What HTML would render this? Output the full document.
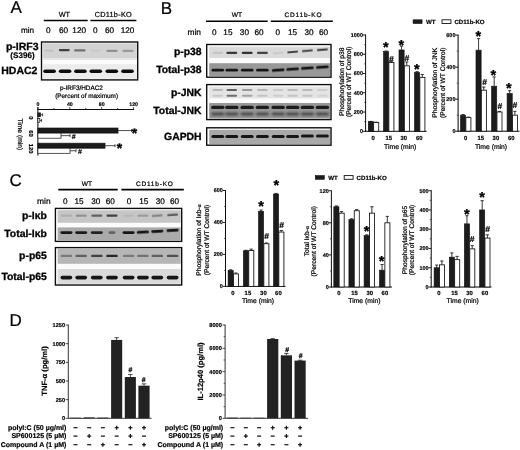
<!DOCTYPE html>
<html><head><meta charset="utf-8"><title>Figure</title>
<style>html,body{margin:0;padding:0;background:#fff}svg{display:block}text{font-family:"Liberation Sans",Arial,sans-serif;text-rendering:geometricPrecision}</style>
</head><body>
<svg width="520" height="450" viewBox="0 0 520 450">
<defs>
<filter id="b1" x="-20%" y="-100%" width="140%" height="300%"><feGaussianBlur stdDeviation="0.7"/></filter>
<filter id="b2" x="-20%" y="-100%" width="140%" height="300%"><feGaussianBlur stdDeviation="1.1"/></filter>
<filter id="soft" x="-5%" y="-5%" width="110%" height="110%"><feGaussianBlur stdDeviation="0.35"/></filter>
</defs>
<rect width="520" height="450" fill="#fff"/>
<g filter="url(#soft)">
<text x="10.6" y="13.2" font-size="17" text-anchor="start" fill="#000" stroke="#000" stroke-width="0.22">A</text>
<text x="160.8" y="13.5" font-size="17" text-anchor="start" fill="#000" stroke="#000" stroke-width="0.22">B</text>
<text x="9.6" y="185.8" font-size="17" text-anchor="start" fill="#000" stroke="#000" stroke-width="0.22">C</text>
<text x="9.4" y="326.2" font-size="17" text-anchor="start" fill="#000" stroke="#000" stroke-width="0.22">D</text>
<text x="64.4" y="17.2" font-size="7.3" text-anchor="middle" fill="#000" stroke="#000" stroke-width="0.22">WT</text>
<text x="113.2" y="17.2" font-size="7.3" text-anchor="middle" fill="#000" textLength="37" stroke="#000" stroke-width="0.22">CD11b-KO</text>
<line x1="43.8" y1="20.5" x2="87.7" y2="20.5" stroke="#000" stroke-width="1.6"/>
<line x1="90.4" y1="20.5" x2="136.4" y2="20.5" stroke="#000" stroke-width="1.6"/>
<text x="27.5" y="33.3" font-size="8.2" text-anchor="middle" fill="#000" stroke="#000" stroke-width="0.22">min</text>
<text x="48.2" y="33.3" font-size="8.2" text-anchor="middle" fill="#000" stroke="#000" stroke-width="0.22">0</text>
<text x="63.6" y="33.3" font-size="8.2" text-anchor="middle" fill="#000" stroke="#000" stroke-width="0.22">60</text>
<text x="79.2" y="33.3" font-size="8.2" text-anchor="middle" fill="#000" stroke="#000" stroke-width="0.22">120</text>
<text x="95.3" y="33.3" font-size="8.2" text-anchor="middle" fill="#000" stroke="#000" stroke-width="0.22">0</text>
<text x="109.6" y="33.3" font-size="8.2" text-anchor="middle" fill="#000" stroke="#000" stroke-width="0.22">60</text>
<text x="127.6" y="33.3" font-size="8.2" text-anchor="middle" fill="#000" stroke="#000" stroke-width="0.22">120</text>
<text x="38.6" y="49.8" font-size="10.5" text-anchor="end" font-weight="bold" fill="#000" stroke="#000" stroke-width="0.3">p-IRF3</text>
<text x="34.6" y="58.4" font-size="8.1" text-anchor="end" font-weight="bold" fill="#000" stroke="#000" stroke-width="0.18">(S396)</text>
<text x="37.4" y="74.4" font-size="10.5" text-anchor="end" font-weight="bold" fill="#000" stroke="#000" stroke-width="0.3">HDAC2</text>
<rect x="41.50" y="42.00" width="96.20" height="37.90" fill="#fbfbfb"/>
<rect x="42.90" y="43.40" width="93.90" height="15.00" fill="#d3d3d3"/>
<rect x="42.90" y="58.40" width="93.90" height="1.60" fill="#e4e4e4"/>
<rect x="42.90" y="64.20" width="93.90" height="14.60" fill="#ececec"/>
<rect x="44.70" y="49.80" width="9.00" height="1.80" rx="0.90" fill="#111" opacity="0.1" filter="url(#b1)"/>
<rect x="58.80" y="49.00" width="11.00" height="2.20" rx="1.10" fill="#111" opacity="0.72" filter="url(#b1)"/>
<rect x="74.05" y="49.30" width="11.50" height="2.20" rx="1.10" fill="#111" opacity="0.5" filter="url(#b1)"/>
<rect x="91.10" y="49.80" width="9.00" height="1.80" rx="0.90" fill="#111" opacity="0.06" filter="url(#b1)"/>
<rect x="106.25" y="49.70" width="11.50" height="2.20" rx="1.10" fill="#111" opacity="0.32" filter="url(#b1)"/>
<rect x="122.25" y="49.70" width="11.50" height="2.20" rx="1.10" fill="#111" opacity="0.28" filter="url(#b1)"/>
<rect x="43.30" y="69.40" width="12.60" height="3.60" rx="1.80" fill="#111" opacity="1.0" filter="url(#b1)"/>
<rect x="58.80" y="69.40" width="12.60" height="3.60" rx="1.80" fill="#111" opacity="1.0" filter="url(#b1)"/>
<rect x="74.10" y="69.40" width="12.60" height="3.60" rx="1.80" fill="#111" opacity="1.0" filter="url(#b1)"/>
<rect x="89.50" y="69.40" width="12.60" height="3.60" rx="1.80" fill="#111" opacity="1.0" filter="url(#b1)"/>
<rect x="105.50" y="69.40" width="12.60" height="3.60" rx="1.80" fill="#111" opacity="1.0" filter="url(#b1)"/>
<rect x="121.20" y="69.40" width="12.60" height="3.60" rx="1.80" fill="#111" opacity="1.0" filter="url(#b1)"/>
<rect x="41.50" y="42.00" width="96.20" height="37.90" fill="none" stroke="#0a0a0a" stroke-width="1.35"/>
<text x="81.4" y="90" font-size="6.4" text-anchor="middle" fill="#000" stroke="#000" stroke-width="0.22">p-IRF3/HDAC2</text>
<text x="86.6" y="97.6" font-size="6.4" text-anchor="middle" fill="#000" stroke="#000" stroke-width="0.22">(Percent of maximum)</text>
<line x1="37.4" y1="109.5" x2="134.1" y2="109.5" stroke="#0a0a0a" stroke-width="1.0"/>
<line x1="37.9" y1="107.2" x2="37.9" y2="155.6" stroke="#0a0a0a" stroke-width="1.0"/>
<line x1="37.9" y1="109.5" x2="37.9" y2="107.1" stroke="#0a0a0a" stroke-width="0.7"/>
<line x1="53.849999999999994" y1="109.5" x2="53.849999999999994" y2="107.9" stroke="#0a0a0a" stroke-width="0.7"/>
<line x1="69.8" y1="109.5" x2="69.8" y2="107.1" stroke="#0a0a0a" stroke-width="0.7"/>
<line x1="85.75" y1="109.5" x2="85.75" y2="107.9" stroke="#0a0a0a" stroke-width="0.7"/>
<line x1="101.69999999999999" y1="109.5" x2="101.69999999999999" y2="107.1" stroke="#0a0a0a" stroke-width="0.7"/>
<line x1="117.64999999999998" y1="109.5" x2="117.64999999999998" y2="107.9" stroke="#0a0a0a" stroke-width="0.7"/>
<line x1="133.6" y1="109.5" x2="133.6" y2="107.1" stroke="#0a0a0a" stroke-width="0.7"/>
<text x="37.9" y="105.9" font-size="5.2" text-anchor="middle" font-weight="bold" fill="#000" stroke="#000" stroke-width="0.18">0</text>
<text x="69.8" y="105.9" font-size="5.2" text-anchor="middle" font-weight="bold" fill="#000" stroke="#000" stroke-width="0.18">40</text>
<text x="101.69999999999999" y="105.9" font-size="5.2" text-anchor="middle" font-weight="bold" fill="#000" stroke="#000" stroke-width="0.18">80</text>
<text x="133.6" y="105.9" font-size="5.2" text-anchor="middle" font-weight="bold" fill="#000" stroke="#000" stroke-width="0.18">120</text>
<rect x="37.90" y="112.90" width="2.50" height="3.80" fill="#1a1a1a" stroke="#111" stroke-width="0.7"/>
<line x1="40.4" y1="114.80000000000001" x2="42.6" y2="114.80000000000001" stroke="#0a0a0a" stroke-width="0.7"/>
<line x1="42.6" y1="113.30000000000001" x2="42.6" y2="116.30000000000001" stroke="#0a0a0a" stroke-width="0.7"/>
<rect x="37.90" y="118.50" width="1.90" height="3.80" fill="#fff" stroke="#111" stroke-width="0.7"/>
<line x1="39.8" y1="120.4" x2="41.6" y2="120.4" stroke="#0a0a0a" stroke-width="0.7"/>
<line x1="41.6" y1="118.9" x2="41.6" y2="121.9" stroke="#0a0a0a" stroke-width="0.7"/>
<rect x="37.90" y="128.00" width="80.10" height="5.10" fill="#1a1a1a" stroke="#111" stroke-width="0.7"/>
<line x1="118" y1="130.55" x2="131.6" y2="130.55" stroke="#0a0a0a" stroke-width="0.7"/>
<line x1="131.6" y1="129.05" x2="131.6" y2="132.05" stroke="#0a0a0a" stroke-width="0.7"/>
<rect x="37.90" y="133.10" width="23.10" height="5.10" fill="#fff" stroke="#111" stroke-width="0.7"/>
<line x1="61" y1="135.64999999999998" x2="70" y2="135.64999999999998" stroke="#0a0a0a" stroke-width="0.7"/>
<line x1="70" y1="134.14999999999998" x2="70" y2="137.14999999999998" stroke="#0a0a0a" stroke-width="0.7"/>
<rect x="37.90" y="143.20" width="67.10" height="5.00" fill="#1a1a1a" stroke="#111" stroke-width="0.7"/>
<line x1="105" y1="145.7" x2="115" y2="145.7" stroke="#0a0a0a" stroke-width="0.7"/>
<line x1="115" y1="144.2" x2="115" y2="147.2" stroke="#0a0a0a" stroke-width="0.7"/>
<rect x="37.90" y="148.20" width="32.10" height="5.10" fill="#fff" stroke="#111" stroke-width="0.7"/>
<line x1="70" y1="150.75" x2="76" y2="150.75" stroke="#0a0a0a" stroke-width="0.7"/>
<line x1="76" y1="149.25" x2="76" y2="152.25" stroke="#0a0a0a" stroke-width="0.7"/>
<text x="134.6" y="137.79999999999998" font-size="14" text-anchor="middle" font-weight="bold" fill="#000" stroke="#000" stroke-width="0.3">*</text>
<text x="119.4" y="153.0" font-size="14" text-anchor="middle" font-weight="bold" fill="#000" stroke="#000" stroke-width="0.3">*</text>
<text x="73.6" y="138.6" font-size="7" text-anchor="middle" font-weight="bold" fill="#000" stroke="#000" stroke-width="0.18">#</text>
<text x="80" y="153.70000000000002" font-size="7" text-anchor="middle" font-weight="bold" fill="#000" stroke="#000" stroke-width="0.18">#</text>
<text x="18.4" y="134.3" font-size="6.7" text-anchor="middle" transform="rotate(90 18.4 134.3)" fill="#000" stroke="#000" stroke-width="0.22">Time (min)</text>
<text x="29.4" y="117.9" font-size="5.8" text-anchor="middle" font-weight="bold" transform="rotate(90 29.4 117.9)" fill="#000" stroke="#000" stroke-width="0.18">0</text>
<text x="29.4" y="133.5" font-size="5.8" text-anchor="middle" font-weight="bold" transform="rotate(90 29.4 133.5)" fill="#000" stroke="#000" stroke-width="0.18">60</text>
<text x="29.4" y="148.7" font-size="5.8" text-anchor="middle" font-weight="bold" transform="rotate(90 29.4 148.7)" fill="#000" stroke="#000" stroke-width="0.18">120</text>
<text x="236.9" y="17.4" font-size="6.6" text-anchor="middle" fill="#000" stroke="#000" stroke-width="0.22">WT</text>
<text x="303" y="17.4" font-size="6.5" text-anchor="middle" fill="#000" textLength="37" stroke="#000" stroke-width="0.22">CD11b-KO</text>
<line x1="206" y1="21.2" x2="267.7" y2="21.2" stroke="#000" stroke-width="1.6"/>
<line x1="270.8" y1="21.2" x2="332.8" y2="21.2" stroke="#000" stroke-width="1.6"/>
<text x="194.2" y="35" font-size="8.4" text-anchor="middle" fill="#000" stroke="#000" stroke-width="0.22">min</text>
<text x="214.3" y="35" font-size="8.2" text-anchor="middle" fill="#000" stroke="#000" stroke-width="0.22">0</text>
<text x="227.9" y="35" font-size="8.2" text-anchor="middle" fill="#000" stroke="#000" stroke-width="0.22">15</text>
<text x="244.4" y="35" font-size="8.2" text-anchor="middle" fill="#000" stroke="#000" stroke-width="0.22">30</text>
<text x="259" y="35" font-size="8.2" text-anchor="middle" fill="#000" stroke="#000" stroke-width="0.22">60</text>
<text x="277.8" y="35" font-size="8.2" text-anchor="middle" fill="#000" stroke="#000" stroke-width="0.22">0</text>
<text x="292.5" y="35" font-size="8.2" text-anchor="middle" fill="#000" stroke="#000" stroke-width="0.22">15</text>
<text x="309" y="35" font-size="8.2" text-anchor="middle" fill="#000" stroke="#000" stroke-width="0.22">30</text>
<text x="323.5" y="35" font-size="8.2" text-anchor="middle" fill="#000" stroke="#000" stroke-width="0.22">60</text>
<text x="201.6" y="54.7" font-size="10.4" text-anchor="end" font-weight="bold" fill="#000" stroke="#000" stroke-width="0.3">p-p38</text>
<text x="201.6" y="73" font-size="10.4" text-anchor="end" font-weight="bold" fill="#000" stroke="#000" stroke-width="0.3">Total-p38</text>
<text x="201.6" y="95.6" font-size="10.4" text-anchor="end" font-weight="bold" fill="#000" stroke="#000" stroke-width="0.3">p-JNK</text>
<text x="201.6" y="113.6" font-size="10.4" text-anchor="end" font-weight="bold" fill="#000" stroke="#000" stroke-width="0.3">Total-JNK</text>
<text x="201.6" y="139.6" font-size="10.4" text-anchor="end" font-weight="bold" fill="#000" stroke="#000" stroke-width="0.3">GAPDH</text>
<rect x="206.70" y="44.50" width="124.30" height="32.70" fill="#fbfbfb"/>
<rect x="209.20" y="46.80" width="120.80" height="11.20" fill="#dadada"/>
<rect x="209.20" y="63.20" width="120.80" height="12.90" fill="#989898"/>
<rect x="212.30" y="51.80" width="11.00" height="2.20" rx="1.10" fill="#111" opacity="0.1" filter="url(#b1)"/>
<rect x="226.30" y="51.80" width="11.00" height="2.20" rx="1.10" fill="#111" opacity="0.78" filter="url(#b1)"/>
<rect x="241.70" y="51.80" width="11.00" height="2.20" rx="1.10" fill="#111" opacity="0.82" filter="url(#b1)"/>
<rect x="256.90" y="51.80" width="11.00" height="2.20" rx="1.10" fill="#111" opacity="0.72" filter="url(#b1)"/>
<rect x="272.70" y="52.10" width="11.00" height="2.00" rx="1.00" fill="#111" opacity="0.08" filter="url(#b1)" transform="rotate(-5 278.2 53.1)"/>
<rect x="287.10" y="50.95" width="11.00" height="2.00" rx="1.00" fill="#111" opacity="0.72" filter="url(#b1)" transform="rotate(-5 292.6 51.95)"/>
<rect x="301.90" y="49.80" width="11.00" height="2.00" rx="1.00" fill="#111" opacity="0.72" filter="url(#b1)" transform="rotate(-5 307.4 50.800000000000004)"/>
<rect x="316.90" y="48.65" width="11.00" height="2.00" rx="1.00" fill="#111" opacity="0.78" filter="url(#b1)" transform="rotate(-5 322.4 49.65)"/>
<rect x="211.55" y="68.80" width="12.50" height="2.80" rx="1.40" fill="#111" opacity="0.95" filter="url(#b1)"/>
<rect x="225.55" y="68.80" width="12.50" height="2.80" rx="1.40" fill="#111" opacity="0.95" filter="url(#b1)"/>
<rect x="240.95" y="68.80" width="12.50" height="2.80" rx="1.40" fill="#111" opacity="0.95" filter="url(#b1)"/>
<rect x="256.15" y="68.80" width="12.50" height="2.80" rx="1.40" fill="#111" opacity="0.95" filter="url(#b1)"/>
<rect x="271.95" y="68.80" width="12.50" height="2.80" rx="1.40" fill="#111" opacity="0.95" filter="url(#b1)" transform="rotate(-4 278.2 70.2)"/>
<rect x="286.35" y="67.80" width="12.50" height="2.80" rx="1.40" fill="#111" opacity="0.95" filter="url(#b1)" transform="rotate(-4 292.6 69.2)"/>
<rect x="301.15" y="66.80" width="12.50" height="2.80" rx="1.40" fill="#111" opacity="0.95" filter="url(#b1)" transform="rotate(-4 307.4 68.2)"/>
<rect x="316.15" y="65.80" width="12.50" height="2.80" rx="1.40" fill="#111" opacity="0.95" filter="url(#b1)" transform="rotate(-4 322.4 67.2)"/>
<rect x="206.70" y="44.50" width="124.30" height="32.70" fill="none" stroke="#0a0a0a" stroke-width="1.35"/>
<rect x="206.70" y="84.60" width="124.30" height="35.00" fill="#fbfbfb"/>
<rect x="209.20" y="86.80" width="120.80" height="11.60" fill="#e4e4e4"/>
<rect x="209.20" y="103.00" width="120.80" height="15.50" fill="#979797"/>
<rect x="212.55" y="88.95" width="10.50" height="2.10" rx="1.05" fill="#111" opacity="0.2" filter="url(#b1)"/>
<rect x="212.55" y="94.75" width="10.50" height="2.10" rx="1.05" fill="#111" opacity="0.12" filter="url(#b1)"/>
<rect x="226.55" y="88.95" width="10.50" height="2.10" rx="1.05" fill="#111" opacity="0.62" filter="url(#b1)"/>
<rect x="226.55" y="94.75" width="10.50" height="2.10" rx="1.05" fill="#111" opacity="0.55" filter="url(#b1)"/>
<rect x="241.95" y="88.95" width="10.50" height="2.10" rx="1.05" fill="#111" opacity="0.35" filter="url(#b1)"/>
<rect x="241.95" y="94.75" width="10.50" height="2.10" rx="1.05" fill="#111" opacity="0.3" filter="url(#b1)"/>
<rect x="257.15" y="88.95" width="10.50" height="2.10" rx="1.05" fill="#111" opacity="0.22" filter="url(#b1)"/>
<rect x="257.15" y="94.75" width="10.50" height="2.10" rx="1.05" fill="#111" opacity="0.15" filter="url(#b1)"/>
<rect x="272.95" y="88.95" width="10.50" height="2.10" rx="1.05" fill="#111" opacity="0.12" filter="url(#b1)"/>
<rect x="272.95" y="94.75" width="10.50" height="2.10" rx="1.05" fill="#111" opacity="0.1" filter="url(#b1)"/>
<rect x="287.35" y="88.95" width="10.50" height="2.10" rx="1.05" fill="#111" opacity="0.2" filter="url(#b1)"/>
<rect x="287.35" y="94.75" width="10.50" height="2.10" rx="1.05" fill="#111" opacity="0.15" filter="url(#b1)"/>
<rect x="302.15" y="88.95" width="10.50" height="2.10" rx="1.05" fill="#111" opacity="0.2" filter="url(#b1)"/>
<rect x="302.15" y="94.75" width="10.50" height="2.10" rx="1.05" fill="#111" opacity="0.15" filter="url(#b1)"/>
<rect x="317.15" y="88.95" width="10.50" height="2.10" rx="1.05" fill="#111" opacity="0.1" filter="url(#b1)"/>
<rect x="317.15" y="94.75" width="10.50" height="2.10" rx="1.05" fill="#111" opacity="0.08" filter="url(#b1)"/>
<rect x="211.10" y="105.80" width="13.40" height="3.20" rx="1.60" fill="#111" opacity="0.88" filter="url(#b1)"/>
<rect x="211.20" y="112.50" width="13.20" height="3.00" rx="1.50" fill="#111" opacity="0.6" filter="url(#b2)"/>
<rect x="225.10" y="105.80" width="13.40" height="3.20" rx="1.60" fill="#111" opacity="0.88" filter="url(#b1)"/>
<rect x="225.20" y="112.50" width="13.20" height="3.00" rx="1.50" fill="#111" opacity="0.6" filter="url(#b2)"/>
<rect x="240.50" y="105.80" width="13.40" height="3.20" rx="1.60" fill="#111" opacity="0.88" filter="url(#b1)"/>
<rect x="240.60" y="112.50" width="13.20" height="3.00" rx="1.50" fill="#111" opacity="0.6" filter="url(#b2)"/>
<rect x="255.70" y="105.80" width="13.40" height="3.20" rx="1.60" fill="#111" opacity="0.88" filter="url(#b1)"/>
<rect x="255.80" y="112.50" width="13.20" height="3.00" rx="1.50" fill="#111" opacity="0.6" filter="url(#b2)"/>
<rect x="271.50" y="105.80" width="13.40" height="3.20" rx="1.60" fill="#111" opacity="0.88" filter="url(#b1)"/>
<rect x="271.60" y="112.50" width="13.20" height="3.00" rx="1.50" fill="#111" opacity="0.6" filter="url(#b2)"/>
<rect x="285.90" y="105.80" width="13.40" height="3.20" rx="1.60" fill="#111" opacity="0.88" filter="url(#b1)"/>
<rect x="286.00" y="112.50" width="13.20" height="3.00" rx="1.50" fill="#111" opacity="0.6" filter="url(#b2)"/>
<rect x="300.70" y="105.80" width="13.40" height="3.20" rx="1.60" fill="#111" opacity="0.88" filter="url(#b1)"/>
<rect x="300.80" y="112.50" width="13.20" height="3.00" rx="1.50" fill="#111" opacity="0.6" filter="url(#b2)"/>
<rect x="315.70" y="105.80" width="13.40" height="3.20" rx="1.60" fill="#111" opacity="0.88" filter="url(#b1)"/>
<rect x="315.80" y="112.50" width="13.20" height="3.00" rx="1.50" fill="#111" opacity="0.6" filter="url(#b2)"/>
<rect x="206.70" y="84.60" width="124.30" height="35.00" fill="none" stroke="#0a0a0a" stroke-width="1.35"/>
<rect x="206.70" y="127.80" width="124.30" height="17.40" fill="#fbfbfb"/>
<rect x="209.20" y="129.80" width="120.80" height="14.30" fill="#a8a8a8"/>
<rect x="211.40" y="134.90" width="12.80" height="3.00" rx="1.50" fill="#111" opacity="0.95" filter="url(#b1)"/>
<rect x="225.40" y="134.90" width="12.80" height="3.00" rx="1.50" fill="#111" opacity="0.95" filter="url(#b1)"/>
<rect x="240.80" y="134.90" width="12.80" height="3.00" rx="1.50" fill="#111" opacity="0.95" filter="url(#b1)"/>
<rect x="256.00" y="134.90" width="12.80" height="3.00" rx="1.50" fill="#111" opacity="0.95" filter="url(#b1)"/>
<rect x="271.80" y="134.90" width="12.80" height="3.00" rx="1.50" fill="#111" opacity="0.95" filter="url(#b1)"/>
<rect x="286.20" y="134.90" width="12.80" height="3.00" rx="1.50" fill="#111" opacity="0.95" filter="url(#b1)"/>
<rect x="301.00" y="134.40" width="12.80" height="3.00" rx="1.50" fill="#111" opacity="0.95" filter="url(#b1)"/>
<rect x="316.00" y="134.40" width="12.80" height="3.00" rx="1.50" fill="#111" opacity="0.95" filter="url(#b1)"/>
<rect x="206.70" y="127.80" width="124.30" height="17.40" fill="none" stroke="#0a0a0a" stroke-width="1.35"/>
<rect x="413.10" y="19.80" width="9.00" height="3.70" fill="#1c1c1c" stroke="#111" stroke-width="0.6"/>
<text x="426.0" y="23.8" font-size="6.2" text-anchor="start" font-weight="bold" fill="#000" stroke="#000" stroke-width="0.18">WT</text>
<rect x="442.00" y="19.80" width="8.90" height="3.70" fill="#fff" stroke="#111" stroke-width="0.9"/>
<text x="454.40000000000003" y="23.8" font-size="6.1" text-anchor="start" font-weight="bold" fill="#000" stroke="#000" stroke-width="0.18">CD11b-KO</text>
<rect x="315.30" y="175.60" width="9.00" height="3.70" fill="#1c1c1c" stroke="#111" stroke-width="0.6"/>
<text x="328.2" y="179.6" font-size="6.2" text-anchor="start" font-weight="bold" fill="#000" stroke="#000" stroke-width="0.18">WT</text>
<rect x="344.20" y="175.60" width="8.90" height="3.70" fill="#fff" stroke="#111" stroke-width="0.9"/>
<text x="356.6" y="179.6" font-size="6.1" text-anchor="start" font-weight="bold" fill="#000" stroke="#000" stroke-width="0.18">CD11b-KO</text>
<line x1="365.6" y1="34.5" x2="365.6" y2="131.8" stroke="#0a0a0a" stroke-width="1.0"/>
<line x1="365.1" y1="131.3" x2="426.6" y2="131.3" stroke="#0a0a0a" stroke-width="1.0"/>
<line x1="362.90000000000003" y1="131.3" x2="365.6" y2="131.3" stroke="#0a0a0a" stroke-width="0.9"/>
<text x="363.0" y="133.20000000000002" font-size="5.5" text-anchor="end" font-weight="bold" fill="#000" stroke="#000" stroke-width="0.18">0</text>
<line x1="364.20000000000005" y1="121.67000000000002" x2="365.6" y2="121.67000000000002" stroke="#0a0a0a" stroke-width="0.6"/>
<line x1="362.90000000000003" y1="112.04" x2="365.6" y2="112.04" stroke="#0a0a0a" stroke-width="0.9"/>
<text x="363.0" y="113.94000000000001" font-size="5.5" text-anchor="end" font-weight="bold" fill="#000" stroke="#000" stroke-width="0.18">200</text>
<line x1="364.20000000000005" y1="102.41000000000001" x2="365.6" y2="102.41000000000001" stroke="#0a0a0a" stroke-width="0.6"/>
<line x1="362.90000000000003" y1="92.78" x2="365.6" y2="92.78" stroke="#0a0a0a" stroke-width="0.9"/>
<text x="363.0" y="94.68" font-size="5.5" text-anchor="end" font-weight="bold" fill="#000" stroke="#000" stroke-width="0.18">400</text>
<line x1="364.20000000000005" y1="83.15" x2="365.6" y2="83.15" stroke="#0a0a0a" stroke-width="0.6"/>
<line x1="362.90000000000003" y1="73.52000000000001" x2="365.6" y2="73.52000000000001" stroke="#0a0a0a" stroke-width="0.9"/>
<text x="363.0" y="75.42000000000002" font-size="5.5" text-anchor="end" font-weight="bold" fill="#000" stroke="#000" stroke-width="0.18">600</text>
<line x1="364.20000000000005" y1="63.89000000000001" x2="365.6" y2="63.89000000000001" stroke="#0a0a0a" stroke-width="0.6"/>
<line x1="362.90000000000003" y1="54.260000000000005" x2="365.6" y2="54.260000000000005" stroke="#0a0a0a" stroke-width="0.9"/>
<text x="363.0" y="56.160000000000004" font-size="5.5" text-anchor="end" font-weight="bold" fill="#000" stroke="#000" stroke-width="0.18">800</text>
<line x1="364.20000000000005" y1="44.63" x2="365.6" y2="44.63" stroke="#0a0a0a" stroke-width="0.6"/>
<line x1="362.90000000000003" y1="35.0" x2="365.6" y2="35.0" stroke="#0a0a0a" stroke-width="0.9"/>
<text x="363.0" y="36.9" font-size="5.5" text-anchor="end" font-weight="bold" fill="#000" stroke="#000" stroke-width="0.18">1000</text>
<line x1="370.875" y1="121.67000000000002" x2="370.875" y2="121.3811" stroke="#0a0a0a" stroke-width="0.8"/>
<line x1="369.275" y1="121.3811" x2="372.475" y2="121.3811" stroke="#0a0a0a" stroke-width="0.8"/>
<rect x="368.30" y="121.67" width="5.15" height="9.63" fill="#1c1c1c" stroke="#111" stroke-width="0.6"/>
<line x1="376.075" y1="122.44040000000001" x2="376.075" y2="122.15150000000001" stroke="#0a0a0a" stroke-width="0.8"/>
<line x1="374.47499999999997" y1="122.15150000000001" x2="377.675" y2="122.15150000000001" stroke="#0a0a0a" stroke-width="0.8"/>
<rect x="373.65" y="122.44" width="5.05" height="8.86" fill="#fff" stroke="#111" stroke-width="0.85"/>
<line x1="386.075" y1="51.56360000000001" x2="386.075" y2="50.9858" stroke="#0a0a0a" stroke-width="0.8"/>
<line x1="384.47499999999997" y1="50.9858" x2="387.675" y2="50.9858" stroke="#0a0a0a" stroke-width="0.8"/>
<rect x="383.50" y="51.56" width="5.15" height="79.74" fill="#1c1c1c" stroke="#111" stroke-width="0.6"/>
<line x1="391.275" y1="62.44550000000001" x2="391.275" y2="61.8677" stroke="#0a0a0a" stroke-width="0.8"/>
<line x1="389.67499999999995" y1="61.8677" x2="392.875" y2="61.8677" stroke="#0a0a0a" stroke-width="0.8"/>
<rect x="388.85" y="62.45" width="5.05" height="68.85" fill="#fff" stroke="#111" stroke-width="0.85"/>
<line x1="401.575" y1="49.926500000000004" x2="401.575" y2="46.0745" stroke="#0a0a0a" stroke-width="0.8"/>
<line x1="399.97499999999997" y1="46.0745" x2="403.175" y2="46.0745" stroke="#0a0a0a" stroke-width="0.8"/>
<rect x="399.00" y="49.93" width="5.15" height="81.37" fill="#1c1c1c" stroke="#111" stroke-width="0.6"/>
<line x1="406.775" y1="65.816" x2="406.775" y2="61.964" stroke="#0a0a0a" stroke-width="0.8"/>
<line x1="405.17499999999995" y1="61.964" x2="408.375" y2="61.964" stroke="#0a0a0a" stroke-width="0.8"/>
<rect x="404.35" y="65.82" width="5.05" height="65.48" fill="#fff" stroke="#111" stroke-width="0.85"/>
<line x1="417.075" y1="72.3644" x2="417.075" y2="71.59400000000001" stroke="#0a0a0a" stroke-width="0.8"/>
<line x1="415.47499999999997" y1="71.59400000000001" x2="418.675" y2="71.59400000000001" stroke="#0a0a0a" stroke-width="0.8"/>
<rect x="414.50" y="72.36" width="5.15" height="58.94" fill="#1c1c1c" stroke="#111" stroke-width="0.6"/>
<line x1="422.275" y1="77.37200000000001" x2="422.275" y2="74.483" stroke="#0a0a0a" stroke-width="0.8"/>
<line x1="420.67499999999995" y1="74.483" x2="423.875" y2="74.483" stroke="#0a0a0a" stroke-width="0.8"/>
<rect x="419.85" y="77.37" width="5.05" height="53.93" fill="#fff" stroke="#111" stroke-width="0.85"/>
<text x="373.2" y="139.8" font-size="5.9" text-anchor="middle" font-weight="bold" fill="#000" stroke="#000" stroke-width="0.18">0</text>
<text x="388.7" y="139.8" font-size="5.9" text-anchor="middle" font-weight="bold" fill="#000" stroke="#000" stroke-width="0.18">15</text>
<text x="403.8" y="139.8" font-size="5.9" text-anchor="middle" font-weight="bold" fill="#000" stroke="#000" stroke-width="0.18">30</text>
<text x="419.2" y="139.8" font-size="5.9" text-anchor="middle" font-weight="bold" fill="#000" stroke="#000" stroke-width="0.18">60</text>
<text x="400.2" y="148.6" font-size="6.8" text-anchor="middle" fill="#000" stroke="#000" stroke-width="0.22">Time (min)</text>
<text x="343.8" y="81.8" font-size="6.7" text-anchor="middle" transform="rotate(-90 343.8 81.8)" fill="#000" stroke="#000" stroke-width="0.22">Phosphorylation of p38</text>
<text x="350.7" y="81.8" font-size="6.7" text-anchor="middle" transform="rotate(-90 350.7 81.8)" fill="#000" stroke="#000" stroke-width="0.22">(Percent of WT Control)</text>
<text x="385.8" y="51.8" font-size="14.5" text-anchor="middle" font-weight="bold" fill="#000" stroke="#000" stroke-width="0.3">*</text>
<text x="401.4" y="50.0" font-size="14.5" text-anchor="middle" font-weight="bold" fill="#000" stroke="#000" stroke-width="0.3">*</text>
<text x="416.8" y="74.0" font-size="14.5" text-anchor="middle" font-weight="bold" fill="#000" stroke="#000" stroke-width="0.3">*</text>
<text x="391.4" y="61.6" font-size="8.6" text-anchor="middle" font-weight="bold" fill="#000" stroke="#000" stroke-width="0.18">#</text>
<text x="406.8" y="61.0" font-size="8.6" text-anchor="middle" font-weight="bold" fill="#000" stroke="#000" stroke-width="0.18">#</text>
<line x1="458.1" y1="34.6" x2="458.1" y2="131.7" stroke="#0a0a0a" stroke-width="1.0"/>
<line x1="457.6" y1="131.2" x2="519.5" y2="131.2" stroke="#0a0a0a" stroke-width="1.0"/>
<line x1="455.40000000000003" y1="131.2" x2="458.1" y2="131.2" stroke="#0a0a0a" stroke-width="0.9"/>
<text x="455.5" y="133.1" font-size="5.5" text-anchor="end" font-weight="bold" fill="#000" stroke="#000" stroke-width="0.18">0</text>
<line x1="456.70000000000005" y1="115.18333333333332" x2="458.1" y2="115.18333333333332" stroke="#0a0a0a" stroke-width="0.6"/>
<line x1="455.40000000000003" y1="99.16666666666666" x2="458.1" y2="99.16666666666666" stroke="#0a0a0a" stroke-width="0.9"/>
<text x="455.5" y="101.06666666666666" font-size="5.5" text-anchor="end" font-weight="bold" fill="#000" stroke="#000" stroke-width="0.18">200</text>
<line x1="456.70000000000005" y1="83.14999999999999" x2="458.1" y2="83.14999999999999" stroke="#0a0a0a" stroke-width="0.6"/>
<line x1="455.40000000000003" y1="67.13333333333333" x2="458.1" y2="67.13333333333333" stroke="#0a0a0a" stroke-width="0.9"/>
<text x="455.5" y="69.03333333333333" font-size="5.5" text-anchor="end" font-weight="bold" fill="#000" stroke="#000" stroke-width="0.18">400</text>
<line x1="456.70000000000005" y1="51.11666666666666" x2="458.1" y2="51.11666666666666" stroke="#0a0a0a" stroke-width="0.6"/>
<line x1="455.40000000000003" y1="35.10000000000001" x2="458.1" y2="35.10000000000001" stroke="#0a0a0a" stroke-width="0.9"/>
<text x="455.5" y="37.00000000000001" font-size="5.5" text-anchor="end" font-weight="bold" fill="#000" stroke="#000" stroke-width="0.18">600</text>
<line x1="463.075" y1="115.18333333333332" x2="463.075" y2="114.54266666666666" stroke="#0a0a0a" stroke-width="0.8"/>
<line x1="461.47499999999997" y1="114.54266666666666" x2="464.675" y2="114.54266666666666" stroke="#0a0a0a" stroke-width="0.8"/>
<rect x="460.50" y="115.18" width="5.15" height="16.02" fill="#1c1c1c" stroke="#111" stroke-width="0.6"/>
<line x1="468.275" y1="117.58583333333333" x2="468.275" y2="117.10533333333332" stroke="#0a0a0a" stroke-width="0.8"/>
<line x1="466.67499999999995" y1="117.10533333333332" x2="469.875" y2="117.10533333333332" stroke="#0a0a0a" stroke-width="0.8"/>
<rect x="465.85" y="117.59" width="5.05" height="13.61" fill="#fff" stroke="#111" stroke-width="0.85"/>
<line x1="478.575" y1="50.15566666666666" x2="478.575" y2="38.623666666666665" stroke="#0a0a0a" stroke-width="0.8"/>
<line x1="476.97499999999997" y1="38.623666666666665" x2="480.175" y2="38.623666666666665" stroke="#0a0a0a" stroke-width="0.8"/>
<rect x="476.00" y="50.16" width="5.15" height="81.04" fill="#1c1c1c" stroke="#111" stroke-width="0.6"/>
<line x1="483.775" y1="90.19733333333332" x2="483.775" y2="86.994" stroke="#0a0a0a" stroke-width="0.8"/>
<line x1="482.17499999999995" y1="86.994" x2="485.375" y2="86.994" stroke="#0a0a0a" stroke-width="0.8"/>
<rect x="481.35" y="90.20" width="5.05" height="41.00" fill="#fff" stroke="#111" stroke-width="0.85"/>
<line x1="494.175" y1="86.19316666666666" x2="494.175" y2="76.9035" stroke="#0a0a0a" stroke-width="0.8"/>
<line x1="492.575" y1="76.9035" x2="495.77500000000003" y2="76.9035" stroke="#0a0a0a" stroke-width="0.8"/>
<rect x="491.60" y="86.19" width="5.15" height="45.01" fill="#1c1c1c" stroke="#111" stroke-width="0.6"/>
<line x1="499.375" y1="111.97999999999999" x2="499.375" y2="111.33933333333333" stroke="#0a0a0a" stroke-width="0.8"/>
<line x1="497.775" y1="111.33933333333333" x2="500.975" y2="111.33933333333333" stroke="#0a0a0a" stroke-width="0.8"/>
<rect x="496.95" y="111.98" width="5.05" height="19.22" fill="#fff" stroke="#111" stroke-width="0.85"/>
<line x1="509.675" y1="93.56083333333333" x2="509.675" y2="90.67783333333333" stroke="#0a0a0a" stroke-width="0.8"/>
<line x1="508.075" y1="90.67783333333333" x2="511.27500000000003" y2="90.67783333333333" stroke="#0a0a0a" stroke-width="0.8"/>
<rect x="507.10" y="93.56" width="5.15" height="37.64" fill="#1c1c1c" stroke="#111" stroke-width="0.6"/>
<line x1="514.875" y1="115.18333333333332" x2="514.875" y2="111.33933333333333" stroke="#0a0a0a" stroke-width="0.8"/>
<line x1="513.275" y1="111.33933333333333" x2="516.475" y2="111.33933333333333" stroke="#0a0a0a" stroke-width="0.8"/>
<rect x="512.45" y="115.18" width="5.05" height="16.02" fill="#fff" stroke="#111" stroke-width="0.85"/>
<text x="465.7" y="139.6" font-size="5.9" text-anchor="middle" font-weight="bold" fill="#000" stroke="#000" stroke-width="0.18">0</text>
<text x="480.8" y="139.6" font-size="5.9" text-anchor="middle" font-weight="bold" fill="#000" stroke="#000" stroke-width="0.18">15</text>
<text x="495.9" y="139.6" font-size="5.9" text-anchor="middle" font-weight="bold" fill="#000" stroke="#000" stroke-width="0.18">30</text>
<text x="511.2" y="139.6" font-size="5.9" text-anchor="middle" font-weight="bold" fill="#000" stroke="#000" stroke-width="0.18">60</text>
<text x="491" y="148.6" font-size="6.8" text-anchor="middle" fill="#000" stroke="#000" stroke-width="0.22">Time (min)</text>
<text x="437.1" y="82.8" font-size="6.7" text-anchor="middle" transform="rotate(-90 437.1 82.8)" fill="#000" stroke="#000" stroke-width="0.22">Phosphorylation of JNK</text>
<text x="444.8" y="82.8" font-size="6.7" text-anchor="middle" transform="rotate(-90 444.8 82.8)" fill="#000" stroke="#000" stroke-width="0.22">(Percent of WT Control)</text>
<text x="478.4" y="41.2" font-size="14.5" text-anchor="middle" font-weight="bold" fill="#000" stroke="#000" stroke-width="0.3">*</text>
<text x="493.4" y="79.8" font-size="14.5" text-anchor="middle" font-weight="bold" fill="#000" stroke="#000" stroke-width="0.3">*</text>
<text x="508.8" y="93.0" font-size="14.5" text-anchor="middle" font-weight="bold" fill="#000" stroke="#000" stroke-width="0.3">*</text>
<text x="484.6" y="84.5" font-size="8.6" text-anchor="middle" font-weight="bold" fill="#000" stroke="#000" stroke-width="0.18">#</text>
<text x="499.8" y="108.7" font-size="8.6" text-anchor="middle" font-weight="bold" fill="#000" stroke="#000" stroke-width="0.18">#</text>
<text x="515" y="107.7" font-size="8.6" text-anchor="middle" font-weight="bold" fill="#000" stroke="#000" stroke-width="0.18">#</text>
<text x="86.9" y="185.8" font-size="6.6" text-anchor="middle" fill="#000" stroke="#000" stroke-width="0.22">WT</text>
<text x="154.4" y="185.8" font-size="6.5" text-anchor="middle" fill="#000" textLength="37" stroke="#000" stroke-width="0.22">CD11b-KO</text>
<line x1="58.3" y1="189.6" x2="117.7" y2="189.6" stroke="#000" stroke-width="1.6"/>
<line x1="121.4" y1="189.6" x2="183.8" y2="189.6" stroke="#000" stroke-width="1.6"/>
<text x="43.8" y="203.7" font-size="8.4" text-anchor="middle" fill="#000" stroke="#000" stroke-width="0.22">min</text>
<text x="65.4" y="203.7" font-size="8.2" text-anchor="middle" fill="#000" stroke="#000" stroke-width="0.22">0</text>
<text x="79" y="203.7" font-size="8.2" text-anchor="middle" fill="#000" stroke="#000" stroke-width="0.22">15</text>
<text x="95.7" y="203.7" font-size="8.2" text-anchor="middle" fill="#000" stroke="#000" stroke-width="0.22">30</text>
<text x="110.3" y="203.7" font-size="8.2" text-anchor="middle" fill="#000" stroke="#000" stroke-width="0.22">60</text>
<text x="129" y="203.7" font-size="8.2" text-anchor="middle" fill="#000" stroke="#000" stroke-width="0.22">0</text>
<text x="143.8" y="203.7" font-size="8.2" text-anchor="middle" fill="#000" stroke="#000" stroke-width="0.22">15</text>
<text x="160.2" y="203.7" font-size="8.2" text-anchor="middle" fill="#000" stroke="#000" stroke-width="0.22">30</text>
<text x="174.6" y="203.7" font-size="8.2" text-anchor="middle" fill="#000" stroke="#000" stroke-width="0.22">60</text>
<text x="46.8" y="219" font-size="10.4" text-anchor="end" font-weight="bold" fill="#000" stroke="#000" stroke-width="0.3">p-Iκb</text>
<text x="46.8" y="237.4" font-size="10.4" text-anchor="end" font-weight="bold" fill="#000" stroke="#000" stroke-width="0.3">Total-Iκb</text>
<text x="46.8" y="258.6" font-size="10.4" text-anchor="end" font-weight="bold" fill="#000" stroke="#000" stroke-width="0.3">p-p65</text>
<text x="46.8" y="279.6" font-size="10.4" text-anchor="end" font-weight="bold" fill="#000" stroke="#000" stroke-width="0.3">Total-p65</text>
<rect x="55.40" y="208.40" width="126.30" height="33.00" fill="#fbfbfb"/>
<rect x="57.70" y="210.20" width="123.00" height="12.60" fill="#c6c6c6"/>
<rect x="57.70" y="227.40" width="123.00" height="12.80" fill="#aaaaaa"/>
<rect x="60.90" y="214.60" width="11.00" height="2.20" rx="1.10" fill="#111" opacity="0.12" filter="url(#b1)"/>
<rect x="75.70" y="214.60" width="11.00" height="2.20" rx="1.10" fill="#111" opacity="0.28" filter="url(#b1)"/>
<rect x="91.30" y="214.60" width="11.00" height="2.20" rx="1.10" fill="#111" opacity="0.55" filter="url(#b1)"/>
<rect x="106.50" y="214.60" width="11.00" height="2.20" rx="1.10" fill="#111" opacity="0.72" filter="url(#b1)"/>
<rect x="123.10" y="214.60" width="11.00" height="2.20" rx="1.10" fill="#111" opacity="0.06" filter="url(#b1)"/>
<rect x="137.40" y="214.60" width="11.00" height="2.20" rx="1.10" fill="#111" opacity="0.22" filter="url(#b1)"/>
<rect x="151.80" y="214.60" width="11.00" height="2.20" rx="1.10" fill="#111" opacity="0.36" filter="url(#b1)" transform="rotate(-4 157.3 215.7)"/>
<rect x="167.10" y="213.80" width="11.00" height="2.20" rx="1.10" fill="#111" opacity="0.55" filter="url(#b1)" transform="rotate(-4 172.6 214.89999999999998)"/>
<rect x="60.40" y="231.25" width="12.00" height="2.70" rx="1.35" fill="#111" opacity="0.95" filter="url(#b1)"/>
<rect x="75.20" y="231.25" width="12.00" height="2.70" rx="1.35" fill="#111" opacity="0.9" filter="url(#b1)"/>
<rect x="90.80" y="231.25" width="12.00" height="2.70" rx="1.35" fill="#111" opacity="0.85" filter="url(#b1)"/>
<rect x="108.50" y="231.25" width="7.00" height="2.70" rx="1.35" fill="#111" opacity="0.45" filter="url(#b1)"/>
<rect x="122.60" y="231.25" width="12.00" height="2.70" rx="1.35" fill="#111" opacity="0.95" filter="url(#b1)"/>
<rect x="136.90" y="230.85" width="12.00" height="2.70" rx="1.35" fill="#111" opacity="0.95" filter="url(#b1)" transform="rotate(-3 142.9 232.2)"/>
<rect x="151.30" y="229.95" width="12.00" height="2.70" rx="1.35" fill="#111" opacity="0.95" filter="url(#b1)" transform="rotate(-3 157.3 231.29999999999998)"/>
<rect x="166.60" y="229.05" width="12.00" height="2.70" rx="1.35" fill="#111" opacity="0.95" filter="url(#b1)" transform="rotate(-3 172.6 230.4)"/>
<rect x="55.40" y="208.40" width="126.30" height="33.00" fill="none" stroke="#0a0a0a" stroke-width="1.35"/>
<rect x="55.40" y="247.60" width="126.30" height="37.40" fill="#fbfbfb"/>
<rect x="57.70" y="248.80" width="123.00" height="15.00" fill="#b6b6b6"/>
<rect x="57.70" y="269.00" width="123.00" height="14.80" fill="#dadada"/>
<rect x="60.65" y="254.70" width="11.50" height="2.40" rx="1.20" fill="#111" opacity="0.35" filter="url(#b1)"/>
<rect x="75.45" y="254.70" width="11.50" height="2.40" rx="1.20" fill="#111" opacity="0.5" filter="url(#b1)"/>
<rect x="91.05" y="254.70" width="11.50" height="2.40" rx="1.20" fill="#111" opacity="0.7" filter="url(#b1)"/>
<rect x="106.25" y="254.70" width="11.50" height="2.40" rx="1.20" fill="#111" opacity="0.85" filter="url(#b1)"/>
<rect x="122.85" y="254.70" width="11.50" height="2.40" rx="1.20" fill="#111" opacity="0.35" filter="url(#b1)"/>
<rect x="137.15" y="254.70" width="11.50" height="2.40" rx="1.20" fill="#111" opacity="0.4" filter="url(#b1)"/>
<rect x="151.55" y="254.70" width="11.50" height="2.40" rx="1.20" fill="#111" opacity="0.5" filter="url(#b1)"/>
<rect x="166.85" y="254.70" width="11.50" height="2.40" rx="1.20" fill="#111" opacity="0.6" filter="url(#b1)"/>
<rect x="60.50" y="275.80" width="11.80" height="3.60" rx="1.80" fill="#111" opacity="0.97" filter="url(#b1)"/>
<rect x="75.30" y="275.80" width="11.80" height="3.60" rx="1.80" fill="#111" opacity="0.97" filter="url(#b1)"/>
<rect x="90.90" y="275.80" width="11.80" height="3.60" rx="1.80" fill="#111" opacity="0.97" filter="url(#b1)"/>
<rect x="106.10" y="275.80" width="11.80" height="3.60" rx="1.80" fill="#111" opacity="0.97" filter="url(#b1)"/>
<rect x="122.70" y="275.80" width="11.80" height="3.60" rx="1.80" fill="#111" opacity="0.97" filter="url(#b1)"/>
<rect x="137.00" y="275.80" width="11.80" height="3.60" rx="1.80" fill="#111" opacity="0.97" filter="url(#b1)"/>
<rect x="151.40" y="275.80" width="11.80" height="3.60" rx="1.80" fill="#111" opacity="0.97" filter="url(#b1)"/>
<rect x="166.70" y="275.80" width="11.80" height="3.60" rx="1.80" fill="#111" opacity="0.97" filter="url(#b1)"/>
<rect x="55.40" y="247.60" width="126.30" height="37.40" fill="none" stroke="#0a0a0a" stroke-width="1.35"/>
<line x1="225.5" y1="190.0" x2="225.5" y2="286.9" stroke="#0a0a0a" stroke-width="1.0"/>
<line x1="225.0" y1="286.4" x2="285.5" y2="286.4" stroke="#0a0a0a" stroke-width="1.0"/>
<line x1="222.8" y1="286.4" x2="225.5" y2="286.4" stroke="#0a0a0a" stroke-width="0.9"/>
<text x="222.9" y="288.29999999999995" font-size="5.5" text-anchor="end" font-weight="bold" fill="#000" stroke="#000" stroke-width="0.18">0</text>
<line x1="224.1" y1="270.41666666666663" x2="225.5" y2="270.41666666666663" stroke="#0a0a0a" stroke-width="0.6"/>
<line x1="222.8" y1="254.4333333333333" x2="225.5" y2="254.4333333333333" stroke="#0a0a0a" stroke-width="0.9"/>
<text x="222.9" y="256.3333333333333" font-size="5.5" text-anchor="end" font-weight="bold" fill="#000" stroke="#000" stroke-width="0.18">200</text>
<line x1="224.1" y1="238.45" x2="225.5" y2="238.45" stroke="#0a0a0a" stroke-width="0.6"/>
<line x1="222.8" y1="222.46666666666667" x2="225.5" y2="222.46666666666667" stroke="#0a0a0a" stroke-width="0.9"/>
<text x="222.9" y="224.36666666666667" font-size="5.5" text-anchor="end" font-weight="bold" fill="#000" stroke="#000" stroke-width="0.18">400</text>
<line x1="224.1" y1="206.48333333333335" x2="225.5" y2="206.48333333333335" stroke="#0a0a0a" stroke-width="0.6"/>
<line x1="222.8" y1="190.5" x2="225.5" y2="190.5" stroke="#0a0a0a" stroke-width="0.9"/>
<text x="222.9" y="192.4" font-size="5.5" text-anchor="end" font-weight="bold" fill="#000" stroke="#000" stroke-width="0.18">600</text>
<line x1="230.675" y1="270.41666666666663" x2="230.675" y2="269.77733333333333" stroke="#0a0a0a" stroke-width="0.8"/>
<line x1="229.07500000000002" y1="269.77733333333333" x2="232.275" y2="269.77733333333333" stroke="#0a0a0a" stroke-width="0.8"/>
<rect x="228.10" y="270.42" width="5.15" height="15.98" fill="#1c1c1c" stroke="#111" stroke-width="0.6"/>
<line x1="235.875" y1="273.933" x2="235.875" y2="272.974" stroke="#0a0a0a" stroke-width="0.8"/>
<line x1="234.275" y1="272.974" x2="237.475" y2="272.974" stroke="#0a0a0a" stroke-width="0.8"/>
<rect x="233.45" y="273.93" width="5.05" height="12.47" fill="#fff" stroke="#111" stroke-width="0.85"/>
<line x1="245.97500000000002" y1="250.75716666666665" x2="245.97500000000002" y2="250.27766666666665" stroke="#0a0a0a" stroke-width="0.8"/>
<line x1="244.37500000000003" y1="250.27766666666665" x2="247.57500000000002" y2="250.27766666666665" stroke="#0a0a0a" stroke-width="0.8"/>
<rect x="243.40" y="250.76" width="5.15" height="35.64" fill="#1c1c1c" stroke="#111" stroke-width="0.6"/>
<line x1="251.175" y1="250.4375" x2="251.175" y2="249.15883333333332" stroke="#0a0a0a" stroke-width="0.8"/>
<line x1="249.57500000000002" y1="249.15883333333332" x2="252.775" y2="249.15883333333332" stroke="#0a0a0a" stroke-width="0.8"/>
<rect x="248.75" y="250.44" width="5.05" height="35.96" fill="#fff" stroke="#111" stroke-width="0.85"/>
<line x1="261.075" y1="211.2783333333333" x2="261.075" y2="209.99966666666666" stroke="#0a0a0a" stroke-width="0.8"/>
<line x1="259.47499999999997" y1="209.99966666666666" x2="262.675" y2="209.99966666666666" stroke="#0a0a0a" stroke-width="0.8"/>
<rect x="258.50" y="211.28" width="5.15" height="75.12" fill="#1c1c1c" stroke="#111" stroke-width="0.6"/>
<line x1="266.275" y1="243.72449999999998" x2="266.275" y2="242.92533333333333" stroke="#0a0a0a" stroke-width="0.8"/>
<line x1="264.67499999999995" y1="242.92533333333333" x2="267.875" y2="242.92533333333333" stroke="#0a0a0a" stroke-width="0.8"/>
<rect x="263.85" y="243.72" width="5.05" height="42.68" fill="#fff" stroke="#111" stroke-width="0.85"/>
<line x1="276.075" y1="194.01633333333334" x2="276.075" y2="193.377" stroke="#0a0a0a" stroke-width="0.8"/>
<line x1="274.47499999999997" y1="193.377" x2="277.675" y2="193.377" stroke="#0a0a0a" stroke-width="0.8"/>
<rect x="273.50" y="194.02" width="5.15" height="92.38" fill="#1c1c1c" stroke="#111" stroke-width="0.6"/>
<line x1="281.275" y1="232.05666666666667" x2="281.275" y2="230.45833333333331" stroke="#0a0a0a" stroke-width="0.8"/>
<line x1="279.67499999999995" y1="230.45833333333331" x2="282.875" y2="230.45833333333331" stroke="#0a0a0a" stroke-width="0.8"/>
<rect x="278.85" y="232.06" width="5.05" height="54.34" fill="#fff" stroke="#111" stroke-width="0.85"/>
<text x="232.8" y="295" font-size="5.9" text-anchor="middle" font-weight="bold" fill="#000" stroke="#000" stroke-width="0.18">0</text>
<text x="247.9" y="295" font-size="5.9" text-anchor="middle" font-weight="bold" fill="#000" stroke="#000" stroke-width="0.18">15</text>
<text x="263.4" y="295" font-size="5.9" text-anchor="middle" font-weight="bold" fill="#000" stroke="#000" stroke-width="0.18">30</text>
<text x="278.4" y="295" font-size="5.9" text-anchor="middle" font-weight="bold" fill="#000" stroke="#000" stroke-width="0.18">60</text>
<text x="258" y="303.3" font-size="6.8" text-anchor="middle" fill="#000" stroke="#000" stroke-width="0.22">Time (min)</text>
<text x="201.2" y="240" font-size="6.7" text-anchor="middle" transform="rotate(-90 201.2 240)" fill="#000" stroke="#000" stroke-width="0.22">Phosphorylation of Iκb-<tspan font-size="5">α</tspan></text>
<text x="208.6" y="240" font-size="6.7" text-anchor="middle" transform="rotate(-90 208.6 240)" fill="#000" stroke="#000" stroke-width="0.22">(Percent of WT Control)</text>
<text x="261.2" y="210.8" font-size="14.5" text-anchor="middle" font-weight="bold" fill="#000" stroke="#000" stroke-width="0.3">*</text>
<text x="276.3" y="190.2" font-size="14.5" text-anchor="middle" font-weight="bold" fill="#000" stroke="#000" stroke-width="0.3">*</text>
<text x="266.7" y="239.0" font-size="8.6" text-anchor="middle" font-weight="bold" fill="#000" stroke="#000" stroke-width="0.18">#</text>
<text x="281.7" y="227.6" font-size="8.6" text-anchor="middle" font-weight="bold" fill="#000" stroke="#000" stroke-width="0.18">#</text>
<line x1="331.4" y1="190.2" x2="331.4" y2="287.5" stroke="#0a0a0a" stroke-width="1.0"/>
<line x1="330.9" y1="287" x2="392" y2="287" stroke="#0a0a0a" stroke-width="1.0"/>
<line x1="328.7" y1="287.0" x2="331.4" y2="287.0" stroke="#0a0a0a" stroke-width="0.9"/>
<text x="328.79999999999995" y="288.9" font-size="5.5" text-anchor="end" font-weight="bold" fill="#000" stroke="#000" stroke-width="0.18">0</text>
<line x1="330.0" y1="270.95" x2="331.4" y2="270.95" stroke="#0a0a0a" stroke-width="0.6"/>
<line x1="328.7" y1="254.9" x2="331.4" y2="254.9" stroke="#0a0a0a" stroke-width="0.9"/>
<text x="328.79999999999995" y="256.8" font-size="5.5" text-anchor="end" font-weight="bold" fill="#000" stroke="#000" stroke-width="0.18">40</text>
<line x1="330.0" y1="238.85" x2="331.4" y2="238.85" stroke="#0a0a0a" stroke-width="0.6"/>
<line x1="328.7" y1="222.8" x2="331.4" y2="222.8" stroke="#0a0a0a" stroke-width="0.9"/>
<text x="328.79999999999995" y="224.70000000000002" font-size="5.5" text-anchor="end" font-weight="bold" fill="#000" stroke="#000" stroke-width="0.18">80</text>
<line x1="330.0" y1="206.75" x2="331.4" y2="206.75" stroke="#0a0a0a" stroke-width="0.6"/>
<line x1="328.7" y1="190.7" x2="331.4" y2="190.7" stroke="#0a0a0a" stroke-width="0.9"/>
<text x="328.79999999999995" y="192.6" font-size="5.5" text-anchor="end" font-weight="bold" fill="#000" stroke="#000" stroke-width="0.18">120</text>
<line x1="336.375" y1="206.75" x2="336.375" y2="205.9475" stroke="#0a0a0a" stroke-width="0.8"/>
<line x1="334.775" y1="205.9475" x2="337.975" y2="205.9475" stroke="#0a0a0a" stroke-width="0.8"/>
<rect x="333.80" y="206.75" width="5.15" height="80.25" fill="#1c1c1c" stroke="#111" stroke-width="0.6"/>
<line x1="341.575" y1="213.17" x2="341.575" y2="211.565" stroke="#0a0a0a" stroke-width="0.8"/>
<line x1="339.97499999999997" y1="211.565" x2="343.175" y2="211.565" stroke="#0a0a0a" stroke-width="0.8"/>
<rect x="339.15" y="213.17" width="5.05" height="73.83" fill="#fff" stroke="#111" stroke-width="0.85"/>
<line x1="351.47499999999997" y1="219.58999999999997" x2="351.47499999999997" y2="218.7875" stroke="#0a0a0a" stroke-width="0.8"/>
<line x1="349.87499999999994" y1="218.7875" x2="353.075" y2="218.7875" stroke="#0a0a0a" stroke-width="0.8"/>
<rect x="348.90" y="219.59" width="5.15" height="67.41" fill="#1c1c1c" stroke="#111" stroke-width="0.6"/>
<line x1="356.67499999999995" y1="210.7625" x2="356.67499999999995" y2="209.55874999999997" stroke="#0a0a0a" stroke-width="0.8"/>
<line x1="355.07499999999993" y1="209.55874999999997" x2="358.275" y2="209.55874999999997" stroke="#0a0a0a" stroke-width="0.8"/>
<rect x="354.25" y="210.76" width="5.05" height="76.24" fill="#fff" stroke="#111" stroke-width="0.85"/>
<line x1="366.675" y1="235.64" x2="366.675" y2="234.83749999999998" stroke="#0a0a0a" stroke-width="0.8"/>
<line x1="365.075" y1="234.83749999999998" x2="368.27500000000003" y2="234.83749999999998" stroke="#0a0a0a" stroke-width="0.8"/>
<rect x="364.10" y="235.64" width="5.15" height="51.36" fill="#1c1c1c" stroke="#111" stroke-width="0.6"/>
<line x1="371.875" y1="213.17" x2="371.875" y2="206.75" stroke="#0a0a0a" stroke-width="0.8"/>
<line x1="370.275" y1="206.75" x2="373.475" y2="206.75" stroke="#0a0a0a" stroke-width="0.8"/>
<rect x="369.45" y="213.17" width="5.05" height="73.83" fill="#fff" stroke="#111" stroke-width="0.85"/>
<line x1="382.075" y1="270.1475" x2="382.075" y2="264.53" stroke="#0a0a0a" stroke-width="0.8"/>
<line x1="380.47499999999997" y1="264.53" x2="383.675" y2="264.53" stroke="#0a0a0a" stroke-width="0.8"/>
<rect x="379.50" y="270.15" width="5.15" height="16.85" fill="#1c1c1c" stroke="#111" stroke-width="0.6"/>
<line x1="387.275" y1="222.8" x2="387.275" y2="216.38" stroke="#0a0a0a" stroke-width="0.8"/>
<line x1="385.67499999999995" y1="216.38" x2="388.875" y2="216.38" stroke="#0a0a0a" stroke-width="0.8"/>
<rect x="384.85" y="222.80" width="5.05" height="64.20" fill="#fff" stroke="#111" stroke-width="0.85"/>
<text x="338.8" y="295.1" font-size="5.9" text-anchor="middle" font-weight="bold" fill="#000" stroke="#000" stroke-width="0.18">0</text>
<text x="354.5" y="295.1" font-size="5.9" text-anchor="middle" font-weight="bold" fill="#000" stroke="#000" stroke-width="0.18">15</text>
<text x="369.8" y="295.1" font-size="5.9" text-anchor="middle" font-weight="bold" fill="#000" stroke="#000" stroke-width="0.18">30</text>
<text x="384.9" y="295.1" font-size="5.9" text-anchor="middle" font-weight="bold" fill="#000" stroke="#000" stroke-width="0.18">60</text>
<text x="364.4" y="303.3" font-size="6.8" text-anchor="middle" fill="#000" stroke="#000" stroke-width="0.22">Time (min)</text>
<text x="308.8" y="241.2" font-size="6.7" text-anchor="middle" transform="rotate(-90 308.8 241.2)" fill="#000" stroke="#000" stroke-width="0.22">Total Iκb-<tspan font-size="5">α</tspan></text>
<text x="316.3" y="241.2" font-size="6.7" text-anchor="middle" transform="rotate(-90 316.3 241.2)" fill="#000" stroke="#000" stroke-width="0.22">(Percent of WT Control)</text>
<text x="366.7" y="236.4" font-size="14.5" text-anchor="middle" font-weight="bold" fill="#000" stroke="#000" stroke-width="0.3">*</text>
<text x="381.6" y="265.5" font-size="14.5" text-anchor="middle" font-weight="bold" fill="#000" stroke="#000" stroke-width="0.3">*</text>
<line x1="431.2" y1="190.2" x2="431.2" y2="287.5" stroke="#0a0a0a" stroke-width="1.0"/>
<line x1="430.7" y1="287" x2="491.5" y2="287" stroke="#0a0a0a" stroke-width="1.0"/>
<line x1="428.5" y1="287.0" x2="431.2" y2="287.0" stroke="#0a0a0a" stroke-width="0.9"/>
<text x="428.59999999999997" y="288.9" font-size="5.5" text-anchor="end" font-weight="bold" fill="#000" stroke="#000" stroke-width="0.18">0</text>
<line x1="429.8" y1="277.37" x2="431.2" y2="277.37" stroke="#0a0a0a" stroke-width="0.6"/>
<line x1="428.5" y1="267.74" x2="431.2" y2="267.74" stroke="#0a0a0a" stroke-width="0.9"/>
<text x="428.59999999999997" y="269.64" font-size="5.5" text-anchor="end" font-weight="bold" fill="#000" stroke="#000" stroke-width="0.18">100</text>
<line x1="429.8" y1="258.11" x2="431.2" y2="258.11" stroke="#0a0a0a" stroke-width="0.6"/>
<line x1="428.5" y1="248.48" x2="431.2" y2="248.48" stroke="#0a0a0a" stroke-width="0.9"/>
<text x="428.59999999999997" y="250.38" font-size="5.5" text-anchor="end" font-weight="bold" fill="#000" stroke="#000" stroke-width="0.18">200</text>
<line x1="429.8" y1="238.85" x2="431.2" y2="238.85" stroke="#0a0a0a" stroke-width="0.6"/>
<line x1="428.5" y1="229.22" x2="431.2" y2="229.22" stroke="#0a0a0a" stroke-width="0.9"/>
<text x="428.59999999999997" y="231.12" font-size="5.5" text-anchor="end" font-weight="bold" fill="#000" stroke="#000" stroke-width="0.18">300</text>
<line x1="429.8" y1="219.59" x2="431.2" y2="219.59" stroke="#0a0a0a" stroke-width="0.6"/>
<line x1="428.5" y1="209.95999999999998" x2="431.2" y2="209.95999999999998" stroke="#0a0a0a" stroke-width="0.9"/>
<text x="428.59999999999997" y="211.85999999999999" font-size="5.5" text-anchor="end" font-weight="bold" fill="#000" stroke="#000" stroke-width="0.18">400</text>
<line x1="429.8" y1="200.32999999999998" x2="431.2" y2="200.32999999999998" stroke="#0a0a0a" stroke-width="0.6"/>
<line x1="428.5" y1="190.7" x2="431.2" y2="190.7" stroke="#0a0a0a" stroke-width="0.9"/>
<text x="428.59999999999997" y="192.6" font-size="5.5" text-anchor="end" font-weight="bold" fill="#000" stroke="#000" stroke-width="0.18">500</text>
<line x1="436.675" y1="267.74" x2="436.675" y2="265.04359999999997" stroke="#0a0a0a" stroke-width="0.8"/>
<line x1="435.075" y1="265.04359999999997" x2="438.27500000000003" y2="265.04359999999997" stroke="#0a0a0a" stroke-width="0.8"/>
<rect x="434.10" y="267.74" width="5.15" height="19.26" fill="#1c1c1c" stroke="#111" stroke-width="0.6"/>
<line x1="441.875" y1="264.851" x2="441.875" y2="260.999" stroke="#0a0a0a" stroke-width="0.8"/>
<line x1="440.275" y1="260.999" x2="443.475" y2="260.999" stroke="#0a0a0a" stroke-width="0.8"/>
<rect x="439.45" y="264.85" width="5.05" height="22.15" fill="#fff" stroke="#111" stroke-width="0.85"/>
<line x1="451.875" y1="257.147" x2="451.875" y2="252.9098" stroke="#0a0a0a" stroke-width="0.8"/>
<line x1="450.275" y1="252.9098" x2="453.475" y2="252.9098" stroke="#0a0a0a" stroke-width="0.8"/>
<rect x="449.30" y="257.15" width="5.15" height="29.85" fill="#1c1c1c" stroke="#111" stroke-width="0.6"/>
<line x1="457.075" y1="259.6508" x2="457.075" y2="256.3766" stroke="#0a0a0a" stroke-width="0.8"/>
<line x1="455.47499999999997" y1="256.3766" x2="458.675" y2="256.3766" stroke="#0a0a0a" stroke-width="0.8"/>
<rect x="454.65" y="259.65" width="5.05" height="27.35" fill="#fff" stroke="#111" stroke-width="0.85"/>
<line x1="466.97499999999997" y1="223.8272" x2="466.97499999999997" y2="215.738" stroke="#0a0a0a" stroke-width="0.8"/>
<line x1="465.37499999999994" y1="215.738" x2="468.575" y2="215.738" stroke="#0a0a0a" stroke-width="0.8"/>
<rect x="464.40" y="223.83" width="5.15" height="63.17" fill="#1c1c1c" stroke="#111" stroke-width="0.6"/>
<line x1="472.17499999999995" y1="248.8652" x2="472.17499999999995" y2="245.591" stroke="#0a0a0a" stroke-width="0.8"/>
<line x1="470.57499999999993" y1="245.591" x2="473.775" y2="245.591" stroke="#0a0a0a" stroke-width="0.8"/>
<rect x="469.75" y="248.87" width="5.05" height="38.13" fill="#fff" stroke="#111" stroke-width="0.85"/>
<line x1="482.175" y1="209.95999999999998" x2="482.175" y2="200.71519999999998" stroke="#0a0a0a" stroke-width="0.8"/>
<line x1="480.575" y1="200.71519999999998" x2="483.77500000000003" y2="200.71519999999998" stroke="#0a0a0a" stroke-width="0.8"/>
<rect x="479.60" y="209.96" width="5.15" height="77.04" fill="#1c1c1c" stroke="#111" stroke-width="0.6"/>
<line x1="487.375" y1="238.0796" x2="487.375" y2="234.8054" stroke="#0a0a0a" stroke-width="0.8"/>
<line x1="485.775" y1="234.8054" x2="488.975" y2="234.8054" stroke="#0a0a0a" stroke-width="0.8"/>
<rect x="484.95" y="238.08" width="5.05" height="48.92" fill="#fff" stroke="#111" stroke-width="0.85"/>
<text x="438.8" y="295.1" font-size="5.9" text-anchor="middle" font-weight="bold" fill="#000" stroke="#000" stroke-width="0.18">0</text>
<text x="454.6" y="295.1" font-size="5.9" text-anchor="middle" font-weight="bold" fill="#000" stroke="#000" stroke-width="0.18">15</text>
<text x="469.5" y="295.1" font-size="5.9" text-anchor="middle" font-weight="bold" fill="#000" stroke="#000" stroke-width="0.18">30</text>
<text x="484.9" y="295.1" font-size="5.9" text-anchor="middle" font-weight="bold" fill="#000" stroke="#000" stroke-width="0.18">60</text>
<text x="462.7" y="303.2" font-size="6.8" text-anchor="middle" fill="#000" stroke="#000" stroke-width="0.22">Time (min)</text>
<text x="407.2" y="240" font-size="6.7" text-anchor="middle" transform="rotate(-90 407.2 240)" fill="#000" stroke="#000" stroke-width="0.22">Phosphorylation of p65</text>
<text x="414.4" y="240" font-size="6.7" text-anchor="middle" transform="rotate(-90 414.4 240)" fill="#000" stroke="#000" stroke-width="0.22">(Percent of WT Control)</text>
<text x="466.9" y="219.0" font-size="14.5" text-anchor="middle" font-weight="bold" fill="#000" stroke="#000" stroke-width="0.3">*</text>
<text x="482" y="201.5" font-size="14.5" text-anchor="middle" font-weight="bold" fill="#000" stroke="#000" stroke-width="0.3">*</text>
<text x="472.2" y="242.2" font-size="8.6" text-anchor="middle" font-weight="bold" fill="#000" stroke="#000" stroke-width="0.18">#</text>
<text x="487.6" y="232.2" font-size="8.6" text-anchor="middle" font-weight="bold" fill="#000" stroke="#000" stroke-width="0.18">#</text>
<line x1="68.3" y1="324.6" x2="68.3" y2="418.3" stroke="#0a0a0a" stroke-width="0.8"/>
<line x1="68.3" y1="418.3" x2="151.6" y2="418.3" stroke="#0a0a0a" stroke-width="0.8"/>
<line x1="65.7" y1="418.3" x2="68.3" y2="418.3" stroke="#0a0a0a" stroke-width="0.7"/>
<text x="65.0" y="420.25" font-size="5.6" text-anchor="end" font-weight="bold" fill="#000" stroke="#000" stroke-width="0.18">0</text>
<line x1="65.7" y1="399.64" x2="68.3" y2="399.64" stroke="#0a0a0a" stroke-width="0.7"/>
<text x="65.0" y="401.59" font-size="5.6" text-anchor="end" font-weight="bold" fill="#000" stroke="#000" stroke-width="0.18">250</text>
<line x1="65.7" y1="380.98" x2="68.3" y2="380.98" stroke="#0a0a0a" stroke-width="0.7"/>
<text x="65.0" y="382.93" font-size="5.6" text-anchor="end" font-weight="bold" fill="#000" stroke="#000" stroke-width="0.18">500</text>
<line x1="65.7" y1="362.32" x2="68.3" y2="362.32" stroke="#0a0a0a" stroke-width="0.7"/>
<text x="65.0" y="364.27" font-size="5.6" text-anchor="end" font-weight="bold" fill="#000" stroke="#000" stroke-width="0.18">750</text>
<line x1="65.7" y1="343.65999999999997" x2="68.3" y2="343.65999999999997" stroke="#0a0a0a" stroke-width="0.7"/>
<text x="65.0" y="345.60999999999996" font-size="5.6" text-anchor="end" font-weight="bold" fill="#000" stroke="#000" stroke-width="0.18">1000</text>
<line x1="65.7" y1="325.0" x2="68.3" y2="325.0" stroke="#0a0a0a" stroke-width="0.7"/>
<text x="65.0" y="326.95" font-size="5.6" text-anchor="end" font-weight="bold" fill="#000" stroke="#000" stroke-width="0.18">1250</text>
<rect x="69.90" y="417.70" width="11.10" height="0.60" fill="#222"/>
<rect x="83.60" y="417.40" width="11.00" height="0.90" fill="#222"/>
<rect x="97.30" y="417.55" width="11.00" height="0.75" fill="#222"/>
<line x1="116.65" y1="339.928" x2="116.65" y2="337.6888" stroke="#0a0a0a" stroke-width="0.7"/>
<line x1="114.45" y1="337.6888" x2="118.85000000000001" y2="337.6888" stroke="#0a0a0a" stroke-width="0.7"/>
<rect x="111.10" y="339.93" width="11.10" height="78.37" fill="#222"/>
<line x1="130.35" y1="377.02408" x2="130.35" y2="374.56096" stroke="#0a0a0a" stroke-width="0.7"/>
<line x1="128.15" y1="374.56096" x2="132.54999999999998" y2="374.56096" stroke="#0a0a0a" stroke-width="0.7"/>
<rect x="124.80" y="377.02" width="11.10" height="41.28" fill="#222"/>
<line x1="144.0" y1="385.68232" x2="144.0" y2="383.89096" stroke="#0a0a0a" stroke-width="0.7"/>
<line x1="141.8" y1="383.89096" x2="146.2" y2="383.89096" stroke="#0a0a0a" stroke-width="0.7"/>
<rect x="138.40" y="385.68" width="11.20" height="32.62" fill="#222"/>
<text x="46.6" y="371" font-size="7.6" text-anchor="middle" font-weight="bold" transform="rotate(-90 46.6 371)" fill="#000" stroke="#000" stroke-width="0.18">TNF-α (pg/ml)</text>
<text x="66.4" y="430" font-size="7.0" text-anchor="end" font-weight="bold" fill="#000" stroke="#000" stroke-width="0.18">polyI:C (50 µg/ml)</text>
<line x1="73.5" y1="427.7" x2="77.5" y2="427.7" stroke="#0a0a0a" stroke-width="1.15"/>
<line x1="87.2" y1="427.7" x2="91.2" y2="427.7" stroke="#0a0a0a" stroke-width="1.15"/>
<line x1="100.9" y1="427.7" x2="104.9" y2="427.7" stroke="#0a0a0a" stroke-width="1.15"/>
<line x1="114.7" y1="427.7" x2="118.7" y2="427.7" stroke="#0a0a0a" stroke-width="1.15"/>
<line x1="116.7" y1="425.7" x2="116.7" y2="429.7" stroke="#0a0a0a" stroke-width="1.15"/>
<line x1="128.4" y1="427.7" x2="132.4" y2="427.7" stroke="#0a0a0a" stroke-width="1.15"/>
<line x1="130.4" y1="425.7" x2="130.4" y2="429.7" stroke="#0a0a0a" stroke-width="1.15"/>
<line x1="142" y1="427.7" x2="146" y2="427.7" stroke="#0a0a0a" stroke-width="1.15"/>
<line x1="144" y1="425.7" x2="144" y2="429.7" stroke="#0a0a0a" stroke-width="1.15"/>
<text x="66.4" y="438.4" font-size="7.0" text-anchor="end" font-weight="bold" fill="#000" stroke="#000" stroke-width="0.18">SP600125 (5 µM)</text>
<line x1="73.5" y1="436.09999999999997" x2="77.5" y2="436.09999999999997" stroke="#0a0a0a" stroke-width="1.15"/>
<line x1="87.2" y1="436.09999999999997" x2="91.2" y2="436.09999999999997" stroke="#0a0a0a" stroke-width="1.15"/>
<line x1="89.2" y1="434.09999999999997" x2="89.2" y2="438.09999999999997" stroke="#0a0a0a" stroke-width="1.15"/>
<line x1="100.9" y1="436.09999999999997" x2="104.9" y2="436.09999999999997" stroke="#0a0a0a" stroke-width="1.15"/>
<line x1="114.7" y1="436.09999999999997" x2="118.7" y2="436.09999999999997" stroke="#0a0a0a" stroke-width="1.15"/>
<line x1="128.4" y1="436.09999999999997" x2="132.4" y2="436.09999999999997" stroke="#0a0a0a" stroke-width="1.15"/>
<line x1="130.4" y1="434.09999999999997" x2="130.4" y2="438.09999999999997" stroke="#0a0a0a" stroke-width="1.15"/>
<line x1="142" y1="436.09999999999997" x2="146" y2="436.09999999999997" stroke="#0a0a0a" stroke-width="1.15"/>
<text x="66.4" y="447" font-size="7.0" text-anchor="end" font-weight="bold" fill="#000" stroke="#000" stroke-width="0.18">Compound A (1 µM)</text>
<line x1="73.5" y1="444.7" x2="77.5" y2="444.7" stroke="#0a0a0a" stroke-width="1.15"/>
<line x1="87.2" y1="444.7" x2="91.2" y2="444.7" stroke="#0a0a0a" stroke-width="1.15"/>
<line x1="100.9" y1="444.7" x2="104.9" y2="444.7" stroke="#0a0a0a" stroke-width="1.15"/>
<line x1="102.9" y1="442.7" x2="102.9" y2="446.7" stroke="#0a0a0a" stroke-width="1.15"/>
<line x1="114.7" y1="444.7" x2="118.7" y2="444.7" stroke="#0a0a0a" stroke-width="1.15"/>
<line x1="128.4" y1="444.7" x2="132.4" y2="444.7" stroke="#0a0a0a" stroke-width="1.15"/>
<line x1="142" y1="444.7" x2="146" y2="444.7" stroke="#0a0a0a" stroke-width="1.15"/>
<line x1="144" y1="442.7" x2="144" y2="446.7" stroke="#0a0a0a" stroke-width="1.15"/>
<text x="130.4" y="371.5" font-size="6.8" text-anchor="middle" font-weight="bold" fill="#000" stroke="#000" stroke-width="0.25">#</text>
<text x="143.6" y="382.1" font-size="6.8" text-anchor="middle" font-weight="bold" fill="#000" stroke="#000" stroke-width="0.25">#</text>
<line x1="225.1" y1="324.6" x2="225.1" y2="418.3" stroke="#0a0a0a" stroke-width="0.8"/>
<line x1="225.1" y1="418.3" x2="308" y2="418.3" stroke="#0a0a0a" stroke-width="0.8"/>
<line x1="222.5" y1="418.3" x2="225.1" y2="418.3" stroke="#0a0a0a" stroke-width="0.7"/>
<text x="221.79999999999998" y="420.25" font-size="5.6" text-anchor="end" font-weight="bold" fill="#000" stroke="#000" stroke-width="0.18">0</text>
<line x1="223.6" y1="406.6375" x2="225.1" y2="406.6375" stroke="#0a0a0a" stroke-width="0.6"/>
<line x1="222.5" y1="394.975" x2="225.1" y2="394.975" stroke="#0a0a0a" stroke-width="0.7"/>
<text x="221.79999999999998" y="396.925" font-size="5.6" text-anchor="end" font-weight="bold" fill="#000" stroke="#000" stroke-width="0.18">2000</text>
<line x1="223.6" y1="383.3125" x2="225.1" y2="383.3125" stroke="#0a0a0a" stroke-width="0.6"/>
<line x1="222.5" y1="371.65" x2="225.1" y2="371.65" stroke="#0a0a0a" stroke-width="0.7"/>
<text x="221.79999999999998" y="373.59999999999997" font-size="5.6" text-anchor="end" font-weight="bold" fill="#000" stroke="#000" stroke-width="0.18">4000</text>
<line x1="223.6" y1="359.98749999999995" x2="225.1" y2="359.98749999999995" stroke="#0a0a0a" stroke-width="0.6"/>
<line x1="222.5" y1="348.325" x2="225.1" y2="348.325" stroke="#0a0a0a" stroke-width="0.7"/>
<text x="221.79999999999998" y="350.275" font-size="5.6" text-anchor="end" font-weight="bold" fill="#000" stroke="#000" stroke-width="0.18">6000</text>
<line x1="223.6" y1="336.66249999999997" x2="225.1" y2="336.66249999999997" stroke="#0a0a0a" stroke-width="0.6"/>
<line x1="222.5" y1="325.0" x2="225.1" y2="325.0" stroke="#0a0a0a" stroke-width="0.7"/>
<text x="221.79999999999998" y="326.95" font-size="5.6" text-anchor="end" font-weight="bold" fill="#000" stroke="#000" stroke-width="0.18">8000</text>
<rect x="227.00" y="417.60" width="10.80" height="0.70" fill="#222"/>
<rect x="240.30" y="417.72" width="10.90" height="0.58" fill="#222"/>
<rect x="253.60" y="417.72" width="11.00" height="0.58" fill="#222"/>
<line x1="272.70000000000005" y1="338.995" x2="272.70000000000005" y2="338.645125" stroke="#0a0a0a" stroke-width="0.7"/>
<line x1="270.50000000000006" y1="338.645125" x2="274.90000000000003" y2="338.645125" stroke="#0a0a0a" stroke-width="0.7"/>
<rect x="267.10" y="339.00" width="11.20" height="79.31" fill="#222"/>
<line x1="286.4" y1="355.3225" x2="286.4" y2="353.573125" stroke="#0a0a0a" stroke-width="0.7"/>
<line x1="284.2" y1="353.573125" x2="288.59999999999997" y2="353.573125" stroke="#0a0a0a" stroke-width="0.7"/>
<rect x="280.80" y="355.32" width="11.20" height="62.98" fill="#222"/>
<line x1="300.1" y1="360.570625" x2="300.1" y2="360.22075" stroke="#0a0a0a" stroke-width="0.7"/>
<line x1="297.90000000000003" y1="360.22075" x2="302.3" y2="360.22075" stroke="#0a0a0a" stroke-width="0.7"/>
<rect x="294.50" y="360.57" width="11.20" height="57.73" fill="#222"/>
<text x="203.2" y="371.5" font-size="7.6" text-anchor="middle" font-weight="bold" transform="rotate(-90 203.2 371.5)" fill="#000" stroke="#000" stroke-width="0.18">IL-12p40 (pg/ml)</text>
<text x="223.2" y="430" font-size="7.0" text-anchor="end" font-weight="bold" fill="#000" stroke="#000" stroke-width="0.18">polyI:C (50 µg/ml)</text>
<line x1="230.4" y1="427.7" x2="234.4" y2="427.7" stroke="#0a0a0a" stroke-width="1.15"/>
<line x1="243.8" y1="427.7" x2="247.8" y2="427.7" stroke="#0a0a0a" stroke-width="1.15"/>
<line x1="257.1" y1="427.7" x2="261.1" y2="427.7" stroke="#0a0a0a" stroke-width="1.15"/>
<line x1="270.7" y1="427.7" x2="274.7" y2="427.7" stroke="#0a0a0a" stroke-width="1.15"/>
<line x1="272.7" y1="425.7" x2="272.7" y2="429.7" stroke="#0a0a0a" stroke-width="1.15"/>
<line x1="284.4" y1="427.7" x2="288.4" y2="427.7" stroke="#0a0a0a" stroke-width="1.15"/>
<line x1="286.4" y1="425.7" x2="286.4" y2="429.7" stroke="#0a0a0a" stroke-width="1.15"/>
<line x1="298.1" y1="427.7" x2="302.1" y2="427.7" stroke="#0a0a0a" stroke-width="1.15"/>
<line x1="300.1" y1="425.7" x2="300.1" y2="429.7" stroke="#0a0a0a" stroke-width="1.15"/>
<text x="223.2" y="438.4" font-size="7.0" text-anchor="end" font-weight="bold" fill="#000" stroke="#000" stroke-width="0.18">SP600125 (5 µM)</text>
<line x1="230.4" y1="436.09999999999997" x2="234.4" y2="436.09999999999997" stroke="#0a0a0a" stroke-width="1.15"/>
<line x1="243.8" y1="436.09999999999997" x2="247.8" y2="436.09999999999997" stroke="#0a0a0a" stroke-width="1.15"/>
<line x1="245.8" y1="434.09999999999997" x2="245.8" y2="438.09999999999997" stroke="#0a0a0a" stroke-width="1.15"/>
<line x1="257.1" y1="436.09999999999997" x2="261.1" y2="436.09999999999997" stroke="#0a0a0a" stroke-width="1.15"/>
<line x1="270.7" y1="436.09999999999997" x2="274.7" y2="436.09999999999997" stroke="#0a0a0a" stroke-width="1.15"/>
<line x1="284.4" y1="436.09999999999997" x2="288.4" y2="436.09999999999997" stroke="#0a0a0a" stroke-width="1.15"/>
<line x1="286.4" y1="434.09999999999997" x2="286.4" y2="438.09999999999997" stroke="#0a0a0a" stroke-width="1.15"/>
<line x1="298.1" y1="436.09999999999997" x2="302.1" y2="436.09999999999997" stroke="#0a0a0a" stroke-width="1.15"/>
<text x="223.2" y="447" font-size="7.0" text-anchor="end" font-weight="bold" fill="#000" stroke="#000" stroke-width="0.18">Compound A (1 µM)</text>
<line x1="230.4" y1="444.7" x2="234.4" y2="444.7" stroke="#0a0a0a" stroke-width="1.15"/>
<line x1="243.8" y1="444.7" x2="247.8" y2="444.7" stroke="#0a0a0a" stroke-width="1.15"/>
<line x1="257.1" y1="444.7" x2="261.1" y2="444.7" stroke="#0a0a0a" stroke-width="1.15"/>
<line x1="259.1" y1="442.7" x2="259.1" y2="446.7" stroke="#0a0a0a" stroke-width="1.15"/>
<line x1="270.7" y1="444.7" x2="274.7" y2="444.7" stroke="#0a0a0a" stroke-width="1.15"/>
<line x1="284.4" y1="444.7" x2="288.4" y2="444.7" stroke="#0a0a0a" stroke-width="1.15"/>
<line x1="298.1" y1="444.7" x2="302.1" y2="444.7" stroke="#0a0a0a" stroke-width="1.15"/>
<line x1="300.1" y1="442.7" x2="300.1" y2="446.7" stroke="#0a0a0a" stroke-width="1.15"/>
<text x="287.2" y="351.90000000000003" font-size="6.8" text-anchor="middle" font-weight="bold" fill="#000" stroke="#000" stroke-width="0.25">#</text>
<text x="300.6" y="357.5" font-size="6.8" text-anchor="middle" font-weight="bold" fill="#000" stroke="#000" stroke-width="0.25">#</text>
</g>
</svg></body></html>
